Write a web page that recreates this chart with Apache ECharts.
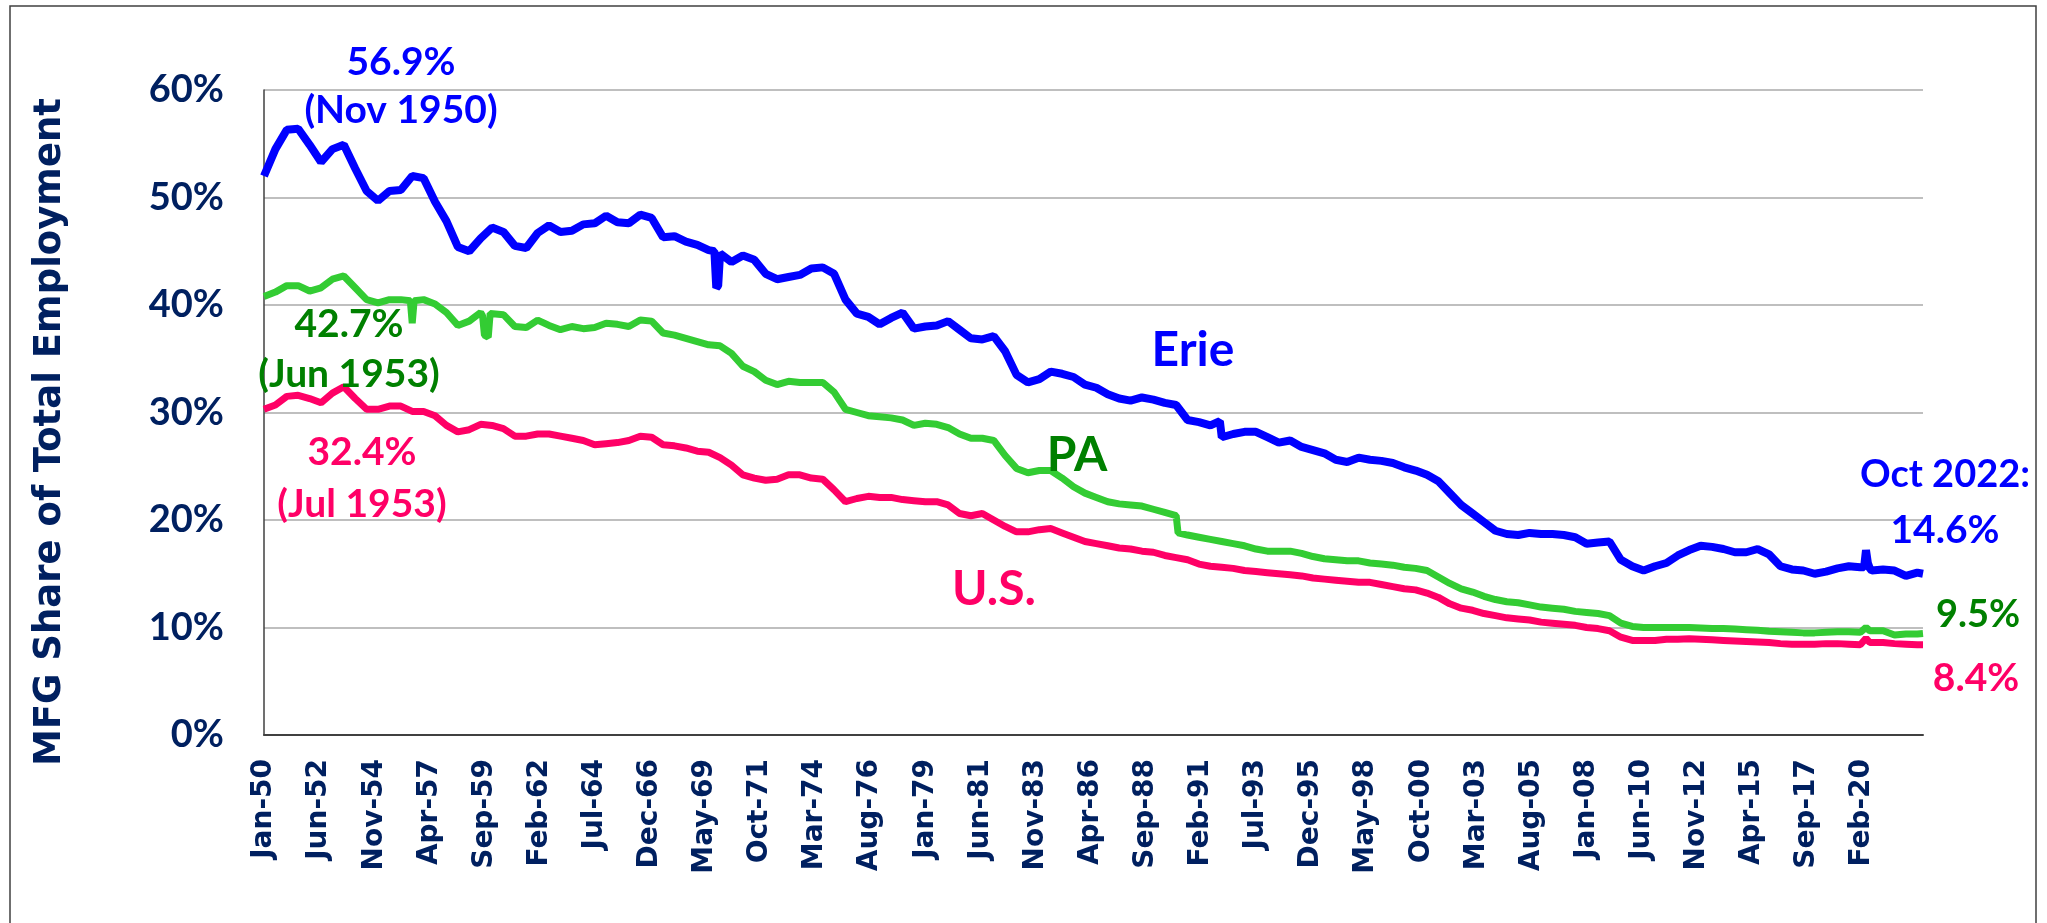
<!DOCTYPE html>
<html>
<head>
<meta charset="utf-8">
<title>MFG Share of Total Employment</title>
<script src="https://cdn.jsdelivr.net/npm/echarts@6/dist/echarts.min.js"></script>
<style>
    html, body {margin: 0; padding: 0; background: #fff;}
    #mfg_line {width: 2047px; height: 923px;}
</style>
</head>
<body>
<div id="mfg_line"></div>
<script>
//half year readings (Jan, Jul) from Jan-50, the last value is Oct-22
var erieVals = [
    52.0,54.5, 56.3,56.4, 54.9,53.3, 54.5,54.9, 52.7,50.6, 49.7,50.6, 50.7,52.0, 51.8,49.6, 47.8,45.4, 45.0,46.2,
    47.2,46.8, 45.5,45.3, 46.7,47.4, 46.8,46.9, 47.5,47.6, 48.3,47.7, 47.6,48.4, 48.1,46.3, 46.4,45.9, 45.6,45.1,
    44.8,44.0, 44.6,44.2, 42.9,42.4, 42.6,42.8, 43.4,43.5, 42.9,40.5, 39.2,38.9, 38.2,38.8, 39.3,37.8, 38.0,38.1,
    38.5,37.7, 36.9,36.8, 37.1,35.7, 33.5,32.8, 33.1,33.8, 33.6,33.3, 32.6,32.3, 31.7,31.3, 31.1,31.4, 31.2,30.9,
    30.7,29.3, 29.1,28.8, 27.7,28.0, 28.2,28.2, 27.7,27.2, 27.4,26.8, 26.5,26.2, 25.6,25.4, 25.8,25.6, 25.5,25.3,
    24.9,24.6, 24.2,23.6, 22.5,21.4, 20.6,19.8, 19.0,18.7, 18.6,18.8, 18.7,18.7, 18.6,18.4, 17.8,17.9, 18.0,16.3,
    15.7,15.3, 15.7,16.0, 16.7,17.2, 17.6,17.5, 17.3,17.0, 17.0,17.3, 16.8,15.7, 15.4,15.3, 15.0,15.2, 15.5,15.7,
    15.6,15.3, 15.4,15.3, 14.8,15.1, 15.0
];
var paVals = [
    40.8,41.2, 41.8,41.8, 41.3,41.6, 42.4,42.7, 41.6,40.5, 40.2,40.5, 40.5,40.3, 40.5,40.1, 39.3,38.1, 38.5,39.3,
    39.1,39.1, 38.0,37.9, 38.6,38.1, 37.7,38.0, 37.8,37.9, 38.3,38.2, 38.0,38.6, 38.5,37.4, 37.2,36.9, 36.6,36.3,
    36.2,35.5, 34.3,33.8, 33.0,32.6, 32.9,32.8, 32.8,32.8, 31.9,30.3, 30.0,29.7, 29.6,29.5, 29.3,28.8, 29.0,28.9,
    28.6,28.0, 27.6,27.6, 27.4,26.0, 24.8,24.4, 24.6,24.6, 23.9,23.1, 22.5,22.1, 21.7,21.5, 21.4,21.3, 21.0,20.7,
    20.4,18.6, 18.4,18.2, 18.0,17.8, 17.6,17.3, 17.1,17.1, 17.1,16.9, 16.6,16.4, 16.3,16.2, 16.2,16.0, 15.9,15.8,
    15.6,15.5, 15.3,14.7, 14.1,13.6, 13.3,12.9, 12.6,12.4, 12.3,12.1, 11.9,11.8, 11.7,11.5, 11.4,11.3, 11.1,10.4,
    10.1,10.0, 10.0,10.0, 10.0,10.0, 9.95,9.9, 9.9,9.85, 9.8,9.75, 9.65,9.6, 9.55,9.5, 9.5,9.55, 9.6,9.6,
    9.55,9.8, 9.7,9.3, 9.4,9.4, 9.45
];
var usVals = [
    30.3,30.7, 31.5,31.6, 31.3,30.9, 31.8,32.4, 31.3,30.3, 30.3,30.6, 30.6,30.1, 30.1,29.7, 28.8,28.2, 28.4,28.9,
    28.8,28.5, 27.8,27.8, 28.0,28.0, 27.8,27.6, 27.4,27.0, 27.1,27.2, 27.4,27.8, 27.7,27.0, 26.9,26.7, 26.4,26.3,
    25.8,25.1, 24.2,23.9, 23.7,23.8, 24.2,24.2, 23.9,23.8, 22.8,21.7, 22.0,22.2, 22.1,22.1, 21.9,21.8, 21.7,21.7,
    21.4,20.6, 20.4,20.6, 20.0,19.4, 18.9,18.9, 19.1,19.2, 18.8,18.4, 18.0,17.8, 17.6,17.4, 17.3,17.1, 17.0,16.7,
    16.5,16.3, 15.9,15.7, 15.6,15.5, 15.3,15.2, 15.1,15.0, 14.9,14.8, 14.6,14.5, 14.4,14.3, 14.2,14.2, 14.0,13.8,
    13.6,13.5, 13.2,12.8, 12.2,11.8, 11.6,11.3, 11.1,10.9, 10.8,10.7, 10.5,10.4, 10.3,10.2, 10.0,9.9, 9.7,9.1,
    8.8,8.8, 8.8,8.9, 8.9,8.95, 8.9,8.85, 8.8,8.75, 8.7,8.65, 8.6,8.5, 8.45,8.45, 8.45,8.5, 8.5,8.45,
    8.4,8.7, 8.6,8.5, 8.45,8.4, 8.4
];
//single months that jump off the half year line (strikes, 1990 step, covid)
var erieExtra = [['Oct-69', 45.0], ['Nov-69', 41.6], ['Dec-69', 41.8], ['Dec-91', 29.2],
    ['Mar-20', 15.6], ['Apr-20', 17.2], ['May-20', 16.0], ['Jun-20', 15.5]];
var paExtra = [['Jun-56', 40.4], ['Jul-56', 38.3], ['Aug-56', 40.4], ['Aug-59', 39.0], ['Sep-59', 37.2],
    ['Nov-59', 37.0], ['Dec-59', 39.2], ['Feb-90', 18.8], ['Apr-20', 10.0], ['Jun-20', 9.7]];
var usExtra = [['Apr-20', 9.0], ['Jun-20', 8.6]];
var firstYear = 1950;
var lastMonth = 'Oct-22';
var lastTickLabel = 'Feb-20';
var monNames = ['Jan', 'Feb', 'Mar', 'Apr', 'May', 'Jun', 'Jul', 'Aug', 'Sep', 'Oct', 'Nov', 'Dec'];

var months = [];

$ready(function () {
    init_months();
    init_chart();
});

function $ready(fn) {
    if (document.readyState != 'loading') fn();
    else document.addEventListener('DOMContentLoaded', fn);
}

//category labels Jan-50 ... Oct-22
function init_months() {
    var y = firstYear;
    while (true) {
        for (var m = 0; m < 12; m++) {
            var lab = monNames[m] + '-' + ('0' + (y % 100)).slice(-2);
            months.push(lab);
            if (lab == lastMonth) return;
        }
        y++;
    }
}

//merge half year readings with the extra months
function build_data(vals, extra) {
    var map = {};
    for (var i = 0; i < vals.length - 1; i++) {
        map[i * 6] = vals[i];
    }
    map[months.indexOf(lastMonth)] = vals[vals.length - 1];
    for (var j = 0; j < extra.length; j++) {
        map[months.indexOf(extra[j][0])] = extra[j][1];
    }
    var keys = Object.keys(map).map(Number).sort(function (a, b) { return a - b; });
    return keys.map(function (k) { return [k, map[k]]; });
}

function note(text, x, y, color, size) {
    return {
        type: 'text', x: x, y: y, z: 100,
        style: {
            text: text, fill: color,
            font: 'bold ' + size + 'px Lato, "Open Sans", sans-serif',
            textAlign: 'center', textVerticalAlign: 'middle',
            align: 'center', verticalAlign: 'middle'
        }
    };
}

function init_chart() {
    var chart = echarts.init(document.getElementById('mfg_line'));
    var navy = '#002060';
    var lastTick = months.indexOf(lastTickLabel);
    var option = {
        backgroundColor: '#fff',
        animation: false,
        grid: {left: 264, right: 124, top: 90, bottom: 188, outerBoundsMode: 'none'},
        xAxis: {
            type: 'category',
            data: months,
            boundaryGap: false,
            axisLine: {show: true, lineStyle: {color: '#404040', width: 2}},
            axisTick: {show: false},
            axisLabel: {
                //one label every 29 months, as in the sheet
                interval: function (index) { return index % 29 == 0 && index <= lastTick; },
                rotate: 90, margin: 24,
                color: navy, fontFamily: '"DejaVu Sans"', fontWeight: 'bold', fontSize: 28
            },
            splitLine: {show: false}
        },
        yAxis: {
            type: 'value',
            min: 0, max: 60, interval: 10,
            axisLine: {show: true, lineStyle: {color: '#404040', width: 1.5}},
            axisTick: {show: false},
            axisLabel: {
                formatter: '{value}%', margin: 40,
                color: navy, fontFamily: 'Lato', fontWeight: 'bold', fontSize: 38
            },
            splitLine: {show: true, lineStyle: {color: '#BFBFBF', width: 2}}
        },
        series: [
            {name: 'U.S.', type: 'line', data: build_data(usVals, usExtra), showSymbol: false, symbol: 'none',
                lineStyle: {color: '#FF0066', width: 7}, z: 2},
            {name: 'PA', type: 'line', data: build_data(paVals, paExtra), showSymbol: false, symbol: 'none',
                lineStyle: {color: '#33CC33', width: 7}, z: 3},
            {name: 'Erie', type: 'line', data: build_data(erieVals, erieExtra), showSymbol: false, symbol: 'none',
                lineStyle: {color: '#0000FF', width: 8}, z: 4}
        ],
        graphic: [
            {type: 'rect', shape: {x: 10, y: 6, width: 2026, height: 930},
                style: {fill: 'none', stroke: '#404040', lineWidth: 1.5}, silent: true},
            {type: 'text', x: 50, y: 432, rotation: Math.PI / 2, z: 100,
                style: {text: 'MFG Share of Total Employment', fill: navy,
                    font: 'bold 37px "DejaVu Sans"', textAlign: 'center', textVerticalAlign: 'middle',
                    align: 'center', verticalAlign: 'middle'}},
            note('56.9%', 401, 62, '#0000FF', 39),
            note('(Nov 1950)', 401, 110, '#0000FF', 39),
            note('42.7%', 349, 324, '#008000', 39),
            note('(Jun 1953)', 349, 374, '#008000', 39),
            note('32.4%', 362, 452, '#FF0066', 39),
            note('(Jul 1953)', 362, 504, '#FF0066', 39),
            note('Erie', 1193, 351, '#0000FF', 48),
            note('PA', 1077, 456, '#008000', 48),
            note('U.S.', 994, 590, '#FF0066', 48),
            note('Oct 2022:', 1945, 475, '#0000FF', 38),
            note('14.6%', 1945, 530, '#0000FF', 39),
            note('9.5%', 1978, 615, '#008000', 38),
            note('8.4%', 1976, 678, '#FF0066', 39)
        ]
    };
    chart.setOption(option);
}
</script>
</body>
</html>
